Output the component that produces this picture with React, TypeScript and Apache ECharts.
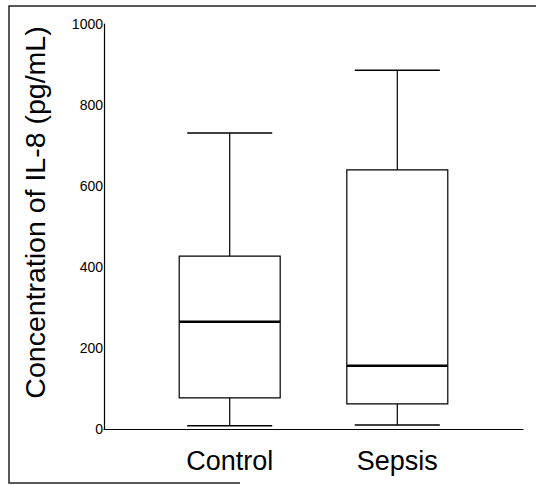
import React, { useEffect, useRef } from "react";
import * as echarts from "echarts";

const categories = ["Control", "Sepsis"];
// [min, Q1, median, Q3, max]
const controlStats = [8, 77, 265, 427, 731];
const sepsisStats = [10, 62, 156, 640, 886];
const yTicks = [0, 200, 400, 600, 800, 1000];
const yTitle = "Concentration of IL-8 (pg/mL)";

const FONT = "'Liberation Sans', Arial, Helvetica, sans-serif";

export default function App() {
  const ref = useRef<HTMLDivElement>(null);

  useEffect(() => {
    if (!ref.current) return;
    const chart = echarts.init(ref.current, undefined, { renderer: "svg" });

    // five slots along the x axis; categories sit in slots 1 and 3
    const axisData = ["", categories[0], "", categories[1], ""];
    const stats = [controlStats, sepsisStats];
    const seriesData = stats.map((s, i) => [i * 2 + 1, ...s]);

    const option: any = {
      animation: false,
      backgroundColor: "#ffffff",
      grid: { left: 104, right: 13, top: 24, bottom: 56, containLabel: false },
      xAxis: {
        type: "category",
        data: axisData,
        boundaryGap: true,
        axisLine: { show: true, lineStyle: { color: "#000", width: 1.2 } },
        axisTick: { show: false },
        axisLabel: {
          color: "#000",
          fontFamily: FONT,
          fontSize: 27,
          margin: 18,
          interval: 0,
        },
        splitLine: { show: false },
      },
      yAxis: {
        type: "value",
        min: yTicks[0],
        max: yTicks[yTicks.length - 1],
        interval: yTicks[1] - yTicks[0],
        axisLine: { show: true, lineStyle: { color: "#000", width: 1.2 } },
        axisTick: { show: false },
        axisLabel: {
          color: "#000",
          fontFamily: FONT,
          fontSize: 14,
          margin: 1,
          formatter: (v: number) => String(v),
        },
        splitLine: { show: false },
        name: yTitle,
        nameLocation: "middle",
        nameGap: 55,
        nameRotate: 90,
        nameTextStyle: {
          color: "#000",
          fontFamily: FONT,
          fontSize: 28.5,
          padding: [0, 0, 0, 28],
        },
      },
      graphic: [
        {
          type: "polyline",
          silent: true,
          shape: { points: [[536, 6], [9, 6], [9, 483], [240, 483]] },
          style: { stroke: "#222", lineWidth: 1.5, fill: "none" },
        },
      ],
      series: [
        {
          type: "custom",
          data: seriesData,
          encode: { x: 0, y: [1, 2, 3, 4, 5] },
          renderItem: (params: any, api: any) => {
            const x = api.value(0);
            const vMin = api.value(1);
            const q1 = api.value(2);
            const med = api.value(3);
            const q3 = api.value(4);
            const vMax = api.value(5);
            const band = api.size([1, 0])[0];
            const boxW = band * 1.205;
            const capW = band * 1.015;
            const pMin = api.coord([x, vMin]);
            const pQ1 = api.coord([x, q1]);
            const pMed = api.coord([x, med]);
            const pQ3 = api.coord([x, q3]);
            const pMax = api.coord([x, vMax]);
            const cx = pMed[0];
            const lineStyle = { stroke: "#000", lineWidth: 1.2 };
            return {
              type: "group",
              children: [
                {
                  type: "rect",
                  shape: { x: cx - boxW / 2, y: pQ3[1], width: boxW, height: pQ1[1] - pQ3[1] },
                  style: { fill: "none", stroke: "#000", lineWidth: 1.2 },
                },
                {
                  type: "line",
                  shape: { x1: cx - boxW / 2, y1: pMed[1], x2: cx + boxW / 2, y2: pMed[1] },
                  style: { stroke: "#000", lineWidth: 2.4 },
                },
                {
                  type: "line",
                  shape: { x1: cx, y1: pQ3[1], x2: cx, y2: pMax[1] },
                  style: lineStyle,
                },
                {
                  type: "line",
                  shape: { x1: cx, y1: pQ1[1], x2: cx, y2: pMin[1] },
                  style: lineStyle,
                },
                {
                  type: "line",
                  shape: { x1: cx - capW / 2, y1: pMax[1], x2: cx + capW / 2, y2: pMax[1] },
                  style: { stroke: "#000", lineWidth: 1.5 },
                },
                {
                  type: "line",
                  shape: { x1: cx - capW / 2, y1: pMin[1], x2: cx + capW / 2, y2: pMin[1] },
                  style: { stroke: "#000", lineWidth: 1.5 },
                },
              ],
            };
          },
        },
      ],
    };

    chart.setOption(option);
    return () => chart.dispose();
  }, []);

  return (
    <div
      ref={ref}
      style={{ position: "absolute", left: 0, top: 0, width: 536, height: 485 }}
    />
  );
}
